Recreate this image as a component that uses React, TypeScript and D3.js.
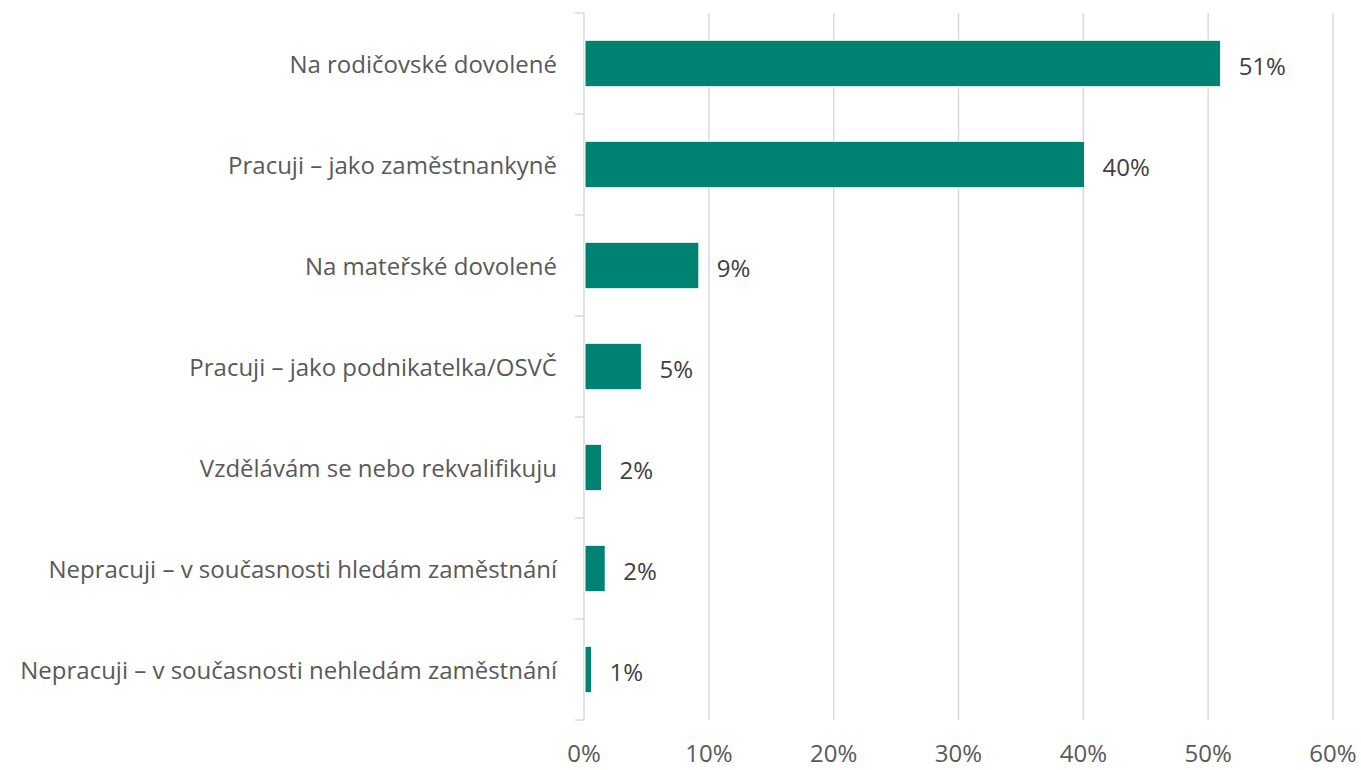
import React from 'react';
import * as d3 from 'd3';

const categories = [
  'Na rodičovské dovolené',
  'Pracuji – jako zaměstnankyně',
  'Na mateřské dovolené',
  'Pracuji – jako podnikatelka/OSVČ',
  'Vzdělávám se nebo rekvalifikuju',
  'Nepracuji – v současnosti hledám zaměstnání',
  'Nepracuji – v současnosti nehledám zaměstnání',
];
const values = [51.0, 40.1, 9.2, 4.6, 1.4, 1.7, 0.6];
const valueLabels = ['51%', '40%', '9%', '5%', '2%', '2%', '1%'];
const ticks = [0, 10, 20, 30, 40, 50, 60];

const W = 1361;
const H = 770;
const FONT = '"Open Sans", sans-serif';

export default function App() {
  const left = 584;
  const right = 1333;
  const top = 13;
  const bottom = 720;

  const x = d3.scaleLinear().domain([0, 60]).range([left, right]);
  const y = d3.scaleBand<string>()
    .domain(categories)
    .range([top, bottom])
    .paddingInner(0.54)
    .paddingOuter(0.27);
  const step = y.step();

  return (
    <svg width={W} height={H} style={{position: 'absolute', left: 0, top: 0}} fontFamily={FONT}>
      <rect width={W} height={H} fill="#fff" />
      {ticks.slice(1).map(t => (
        <line key={t} x1={x(t)} x2={x(t)} y1={top} y2={bottom} stroke="#d9d9d9" strokeWidth={1.5} />
      ))}
      <line x1={left} x2={left} y1={top} y2={bottom} stroke="#d9d9d9" strokeWidth={1.5} />
      {d3.range(categories.length + 1).map(i => (
        <line key={i} x1={left - 9} x2={left} y1={top + i * step} y2={top + i * step} stroke="#d9d9d9" strokeWidth={1.5} />
      ))}
      {categories.map((c, i) => (
        <g key={c}>
          <rect
            x={x(0) + 1}
            y={y(c)}
            width={x(values[i]) - x(0) - 1}
            height={y.bandwidth()}
            fill="#008272"
            stroke="#fff"
            strokeWidth={1}
          />
          <text
            x={left - 27}
            y={(y(c) as number) + y.bandwidth() / 2}
            textAnchor="end"
            dominantBaseline="central"
            fontSize={24}
            fill="#595959"
          >{c}</text>
          <text
            x={x(values[i]) + 18}
            y={(y(c) as number) + y.bandwidth() / 2 + 2}
            dominantBaseline="central"
            fontSize={24}
            fill="#404040"
          >{valueLabels[i]}</text>
        </g>
      ))}
      {ticks.map(t => (
        <text key={t} x={x(t)} y={752} textAnchor="middle" dominantBaseline="central" fontSize={24} fill="#595959">{t}%</text>
      ))}
    </svg>
  );
}
